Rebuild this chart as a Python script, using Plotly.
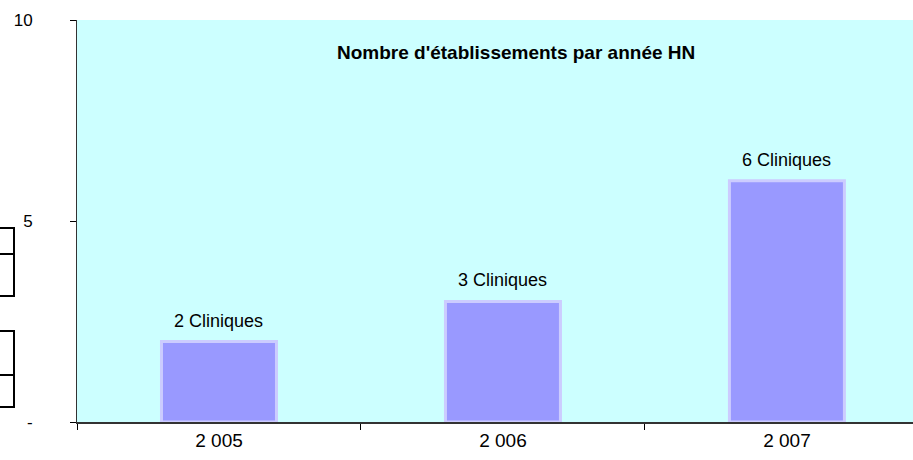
import plotly.graph_objects as go

years = ["2 005", "2 006", "2 007"]
counts = [2, 3, 6]
bar_labels = ["2 Cliniques", "3 Cliniques", "6 Cliniques"]
y_tickvals = [0, 5, 10]
y_ticktext = ["-", "5", "10"]
title_text = "Nombre d'établissements par année HN"

FONT = "Liberation Sans, Arial, sans-serif"

fig = go.Figure()
fig.add_trace(go.Bar(
    x=years, y=counts, width=0.405,
    marker=dict(color="#9999FF", line=dict(color="#CCCCFF", width=3)),
    hoverinfo="skip",
))

for x, v, t in zip(years, counts, bar_labels):
    fig.add_annotation(x=x, y=v, text=t, showarrow=False, yshift=21,
                       font=dict(family=FONT, size=18, color="#000000"))

fig.add_annotation(xref="paper", yref="paper", x=0.525, y=0.92, text=title_text,
                   xanchor="center", yanchor="middle",
                   showarrow=False, font=dict(family=FONT, size=19, color="#000000", weight="bold"))

# legend remnants at the far left
box_style = dict(type="rect", xref="paper", yref="paper", line=dict(color="#000000", width=2),
                 fillcolor="rgba(0,0,0,0)", layer="above")
W, H, L, T = 836, 402, 77, 20
def px(x):
    return (x - L) / W
def py(y):
    return 1 - (y - T) / H
for (y0, y1) in [(228, 254), (254, 296), (331, 375), (375, 407)]:
    fig.add_shape(x0=px(-10), x1=px(14), y0=py(y1), y1=py(y0), **box_style)

fig.update_layout(
    width=913, height=460,
    margin=dict(l=77, r=0, t=20, b=38),
    paper_bgcolor="#FFFFFF", plot_bgcolor="#CCFFFF",
    showlegend=False,
    font=dict(family=FONT, size=16, color="#000000"),
    xaxis=dict(
        type="category", range=[-0.5, 2.444], tickson="boundaries",
        ticks="outside", ticklen=6, tickcolor="#000000",
        showline=True, linecolor="#333333", linewidth=2,
        showgrid=False, zeroline=False, fixedrange=True, automargin=False,
        tickfont=dict(family=FONT, size=19),
    ),
    yaxis=dict(
        range=[0, 10], tickvals=y_tickvals, ticktext=y_ticktext,
        ticks="outside", ticklen=6, tickcolor="#000000",
        showline=True, linecolor="#333333", linewidth=1,
        showgrid=False, zeroline=False, fixedrange=True, automargin=False,
        ticklabelstandoff=34,
        tickfont=dict(family=FONT, size=17),
    ),
)

fig.write_html("out.html", config={"displayModeBar": False},
               post_script="document.body.style.margin='0px';")
